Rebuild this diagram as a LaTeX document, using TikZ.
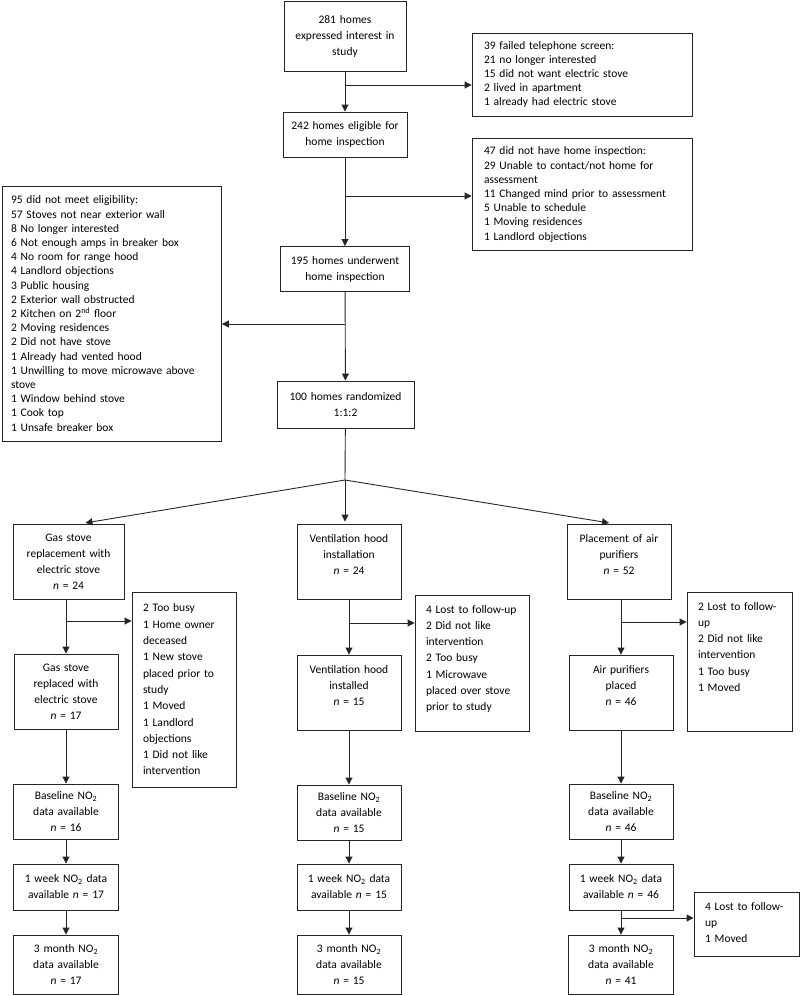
\documentclass[tikz,border=0pt]{standalone}
\usepackage{fontspec}
\setmainfont{Carlito}
\usetikzlibrary{arrows.meta}

\begin{document}
\begin{tikzpicture}[
            x = 1pt, y = -1pt,
            every node/.style = {draw = black!85, line width = 0.9pt, font = \fontsize{11.5}{16}\selectfont},
            box/.style = {align = center, inner xsep = 3pt, text width = #1},
            note/.style = {align = left, inner xsep = 12pt, text width = #1, font = \fontsize{11.5}{14.2}\selectfont},
            lownote/.style = {note = #1, inner xsep = 11pt, font = \fontsize{11.5}{16.3}\selectfont},
            hang/.style = {inner ysep = 8pt, text height = 10pt, text depth = #1},
            arr/.style = {draw = black!85, line width = 0.9pt, -{Triangle[length = 7pt, width = 7pt]}}]
            \useasboundingbox (0, 0) rectangle (800, 996);
            \node[box = 116pt, minimum height = 70pt] (n281) at (345, 36) {281 homes\\expressed interest in\\study};
            \node[note = 196pt, minimum height = 83pt] (n39) at (582, 74.5) {39 failed telephone screen:\\21 no longer interested\\15 did not want electric stove\\2 lived in apartment\\1 already had electric stove};
            \node[box = 118pt, minimum height = 45pt] (n242) at (345, 134.5) {242 homes eligible for\\home inspection};
            \node[note = 196pt, minimum height = 112pt] (n47) at (582, 194.5) {47 did not have home inspection:\\29 Unable to contact/not home for\\assessment\\11 Changed mind prior to assessment\\5 Unable to schedule\\1 Moving residences\\1 Landlord objections};
            \node[box = 123pt, minimum height = 45pt] (n195) at (345, 269) {195 homes underwent\\home inspection};
            \node[note = 202pt, inner xsep = 8.5pt, minimum height = 255pt] (n95) at (112, 313.5) {95 did not meet eligibility:\\57 Stoves not near exterior wall\\8 No longer interested\\6 Not enough amps in breaker box\\4 No room for range hood\\4 Landlord objections\\3 Public housing\\2 Exterior wall obstructed\\2 Kitchen on 2\textsuperscript{nd} floor\\2 Moving residences\\2 Did not have stove\\1 Already had vented hood\\1 Unwilling to move microwave above\\stove\\1 Window behind stove\\1 Cook top\\1 Unsafe breaker box};
            \node[box = 131pt, minimum height = 47pt] (n100) at (345.5, 404.5) {100 homes randomized\\1:1:2};
            \coordinate (split) at (345, 480);

            \node[box = 105pt, minimum height = 75pt] (gas) at (68.5, 561.5) {Gas stove\\replacement with\\electric stove\\\textit{n} = 24};
            \node[box = 98pt, hang = 49pt] (vent) at (349, 561.5) {Ventilation hood\\installation\\\textit{n} = 24};
            \node[box = 98pt, hang = 49pt] (air) at (619, 561.5) {Placement of air\\purifiers\\\textit{n} = 52};

            \node[box = 98pt, minimum height = 75pt] (gasdone) at (66, 691.5) {Gas stove\\replaced with\\electric stove\\\textit{n} = 17};
            \node[lownote = 82pt, minimum height = 195pt] (ex1) at (184, 689.5) {2 Too busy\\1 Home owner\\deceased\\1 New stove\\placed prior to\\study\\1 Moved\\1 Landlord\\objections\\1 Did not like\\intervention};
            \node[box = 98pt, hang = 49pt] (ventdone) at (349, 692.5) {Ventilation hood\\installed\\\textit{n} = 15};
            \node[lownote = 92pt, hang = 110pt] (ex2) at (472, 663) {4 Lost to follow-up\\2 Did not like\\intervention\\2 Too busy\\1 Microwave\\placed over stove\\prior to study};
            \node[box = 98pt, hang = 49pt] (airdone) at (621, 692.5) {Air purifiers\\placed\\\textit{n} = 46};
            \node[lownote = 83pt, hang = 113pt] (ex3) at (739.5, 661.5) {2 Lost to follow-\\up\\2 Did not like\\intervention\\1 Too busy\\1 Moved};

            \node[box = 99pt, minimum height = 55pt] (gasbase) at (66, 811.5) {Baseline NO\textsubscript{2}\\data available\\\textit{n} = 16};
            \node[box = 99pt, minimum height = 46pt] (gasweek) at (66, 887) {1 week NO\textsubscript{2} data\\available \textit{n} = 17};
            \node[box = 99pt, minimum height = 59pt] (gas3m) at (66, 964.5) {3 month NO\textsubscript{2}\\data available\\\textit{n} = 17};
            \node[box = 98pt, minimum height = 55pt] (ventbase) at (349, 812.5) {Baseline NO\textsubscript{2}\\data available\\\textit{n} = 15};
            \node[box = 98pt, minimum height = 46pt] (ventweek) at (349, 887) {1 week NO\textsubscript{2} data\\available \textit{n} = 15};
            \node[box = 98pt, minimum height = 59pt] (vent3m) at (349, 964.5) {3 month NO\textsubscript{2}\\data available\\\textit{n} = 15};
            \node[box = 98pt, minimum height = 55pt] (airbase) at (621, 811.5) {Baseline NO\textsubscript{2}\\data available\\\textit{n} = 46};
            \node[box = 98pt, minimum height = 46pt] (airweek) at (621, 887) {1 week NO\textsubscript{2} data\\available \textit{n} = 46};
            \node[box = 99pt, minimum height = 59pt] (air3m) at (621, 964.5) {3 month NO\textsubscript{2}\\data available\\\textit{n} = 41};
            \node[lownote = 83pt, hang = 38pt] (ex4) at (746.5, 924) {4 Lost to follow-\\up\\1 Moved};

            \coordinate (b1) at (345, 85);
            \coordinate (b2) at (345, 196);
            \coordinate (b3) at (345, 324);
            \coordinate (gb) at (66, 621);
            \coordinate (vb) at (349, 623);
            \coordinate (ab) at (621, 622);
            \coordinate (ab2) at (621, 918);

            \draw[arr] (n281) -- (n242);
            \draw[arr] (n242) -- (n195);
            \draw[arr] (n195) -- (n100);
            \draw[arr] (b1) -- (b1 -| n39.west);
            \draw[arr] (b2) -- (b2 -| n47.west);
            \draw[arr] (b3) -- (b3 -| n95.east);
            \draw[arr, -] (n100) -- (split);
            \draw[arr, shorten >= 4pt] (split) -- ([xshift = 13pt] gas.north);
            \draw[arr, shorten >= 2pt] (split) -- (split |- vent.north);
            \draw[arr, shorten >= 4pt] (split) -- ([xshift = -6pt] air.north);

            \draw[arr] (gasdone |- gas.south) -- (gasdone);
            \draw[arr] (gb) -- (gb -| ex1.west);
            \draw[arr] (gasdone) -- (gasbase);
            \draw[arr] (gasbase) -- (gasweek);
            \draw[arr] (gasweek) -- (gas3m);

            \draw[arr] (vent) -- (ventdone);
            \draw[arr] (vb) -- (vb -| ex2.west);
            \draw[arr] (ventdone) -- (ventbase);
            \draw[arr] (ventbase) -- (ventweek);
            \draw[arr] (ventweek) -- (vent3m);

            \draw[arr] (airdone |- air.south) -- (airdone);
            \draw[arr] (ab) -- (ab -| ex3.west);
            \draw[arr] (airdone) -- (airbase);
            \draw[arr] (airbase) -- (airweek);
            \draw[arr] (airweek) -- (air3m);
            \draw[arr] (ab2) -- (ab2 -| ex4.west);
        \end{tikzpicture}
\end{document}
